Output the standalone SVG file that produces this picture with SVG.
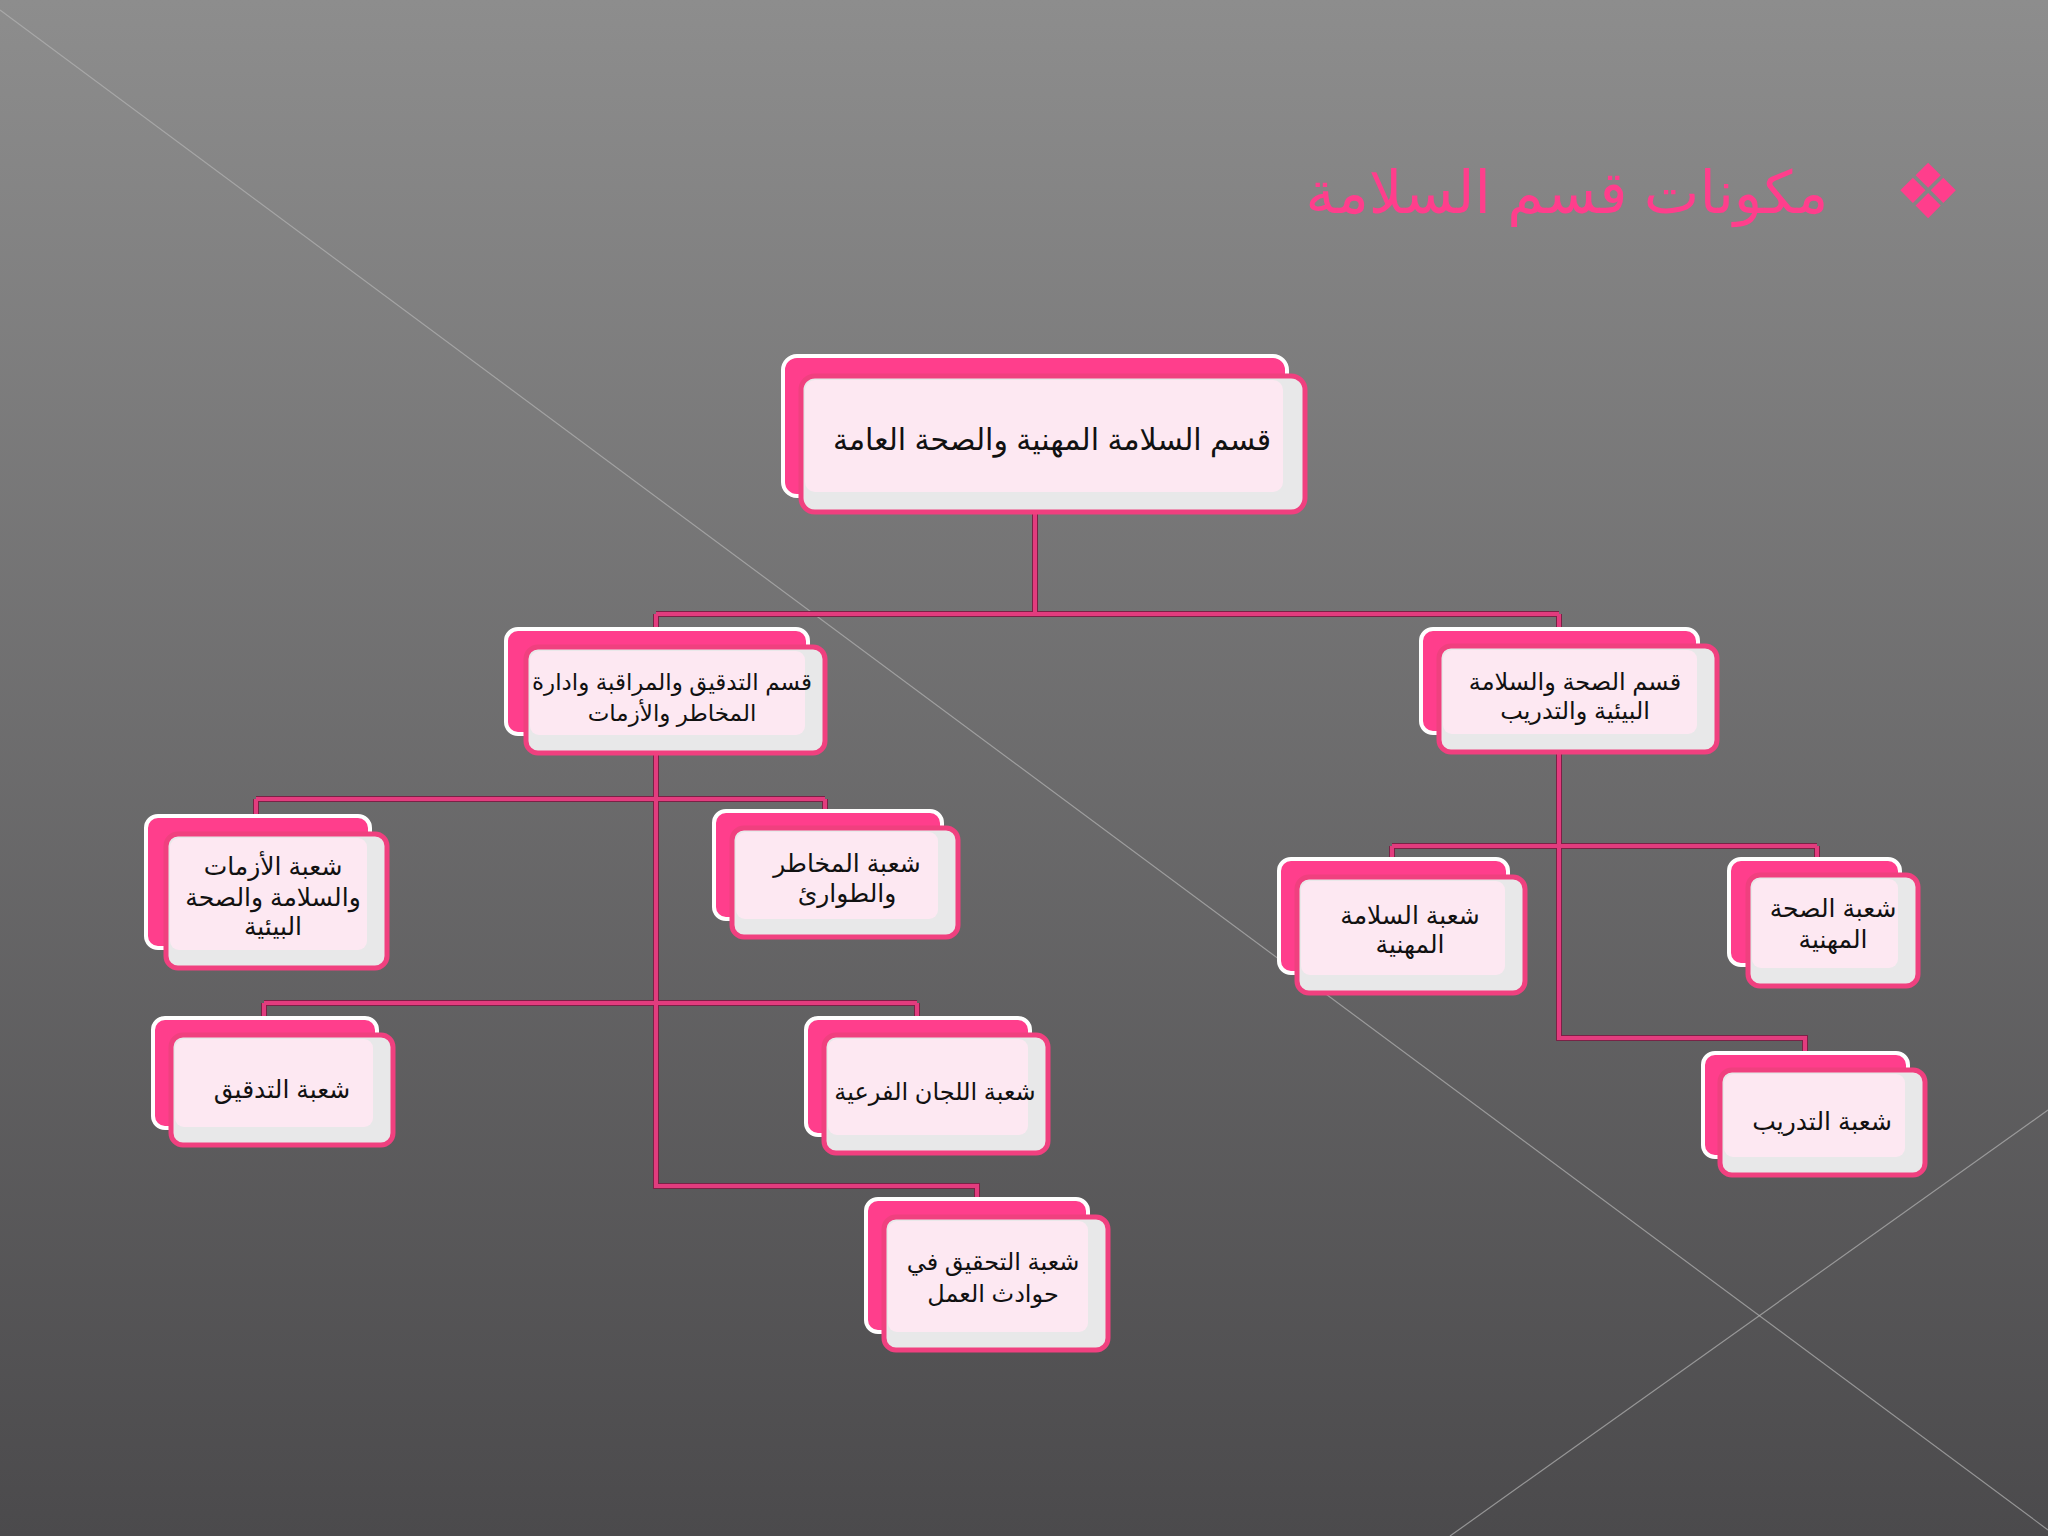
<svg xmlns="http://www.w3.org/2000/svg" width="2048" height="1536" viewBox="0 0 2048 1536">
<defs>
<linearGradient id="bg" x1="0" y1="0" x2="0" y2="1">
<stop offset="0" stop-color="#8d8d8d"/>
<stop offset="1" stop-color="#4b4a4c"/>
</linearGradient>
<style>
.back{fill:#ff3e8c;stroke:#ffffff;stroke-width:4}
.front{fill:#e8e8e9;stroke:#f0407f;stroke-width:5}
.inner{fill:#fde8f2}
.lbl{font-family:"Liberation Sans","DejaVu Sans",sans-serif;font-size:25px;fill:#111;text-anchor:middle}
.s30{font-size:30px}
.s24{font-size:24px}
.s23{font-size:23px}
.conn{fill:none;stroke:#e23c7e;stroke-width:4}
.conn2{fill:none;stroke:#7a2246;stroke-width:6}
</style>
</defs>
<rect width="2048" height="1536" fill="url(#bg)"/>
<line x1="0" y1="10" x2="2048" y2="1530" stroke="#b4b4b4" stroke-width="1.2" opacity="0.7"/>
<line x1="1450" y1="1536" x2="2048" y2="1110" stroke="#b4b4b4" stroke-width="1.2" opacity="0.7"/>

<g id="title">
<text x="1928" y="218" font-family="DejaVu Sans,sans-serif" font-size="76" fill="#ff3e8c" text-anchor="middle">❖</text>
<text x="1567" y="213" font-family="Liberation Sans,DejaVu Sans,sans-serif" font-size="59" fill="#ff3e8c" text-anchor="middle">مكونات قسم السلامة</text>
</g>

<g id="connectors">
<g class="conn2">
<path d="M1035 512V614M656 614H1559M656 614V630M1559 614V630"/>
<path d="M656 753V1186H977V1198M256 799H825M256 799V816M825 799V810M264 1003H917M264 1003V1017M917 1003V1017"/>
<path d="M1559 752V1038H1805V1052M1392 846H1817M1392 846V858M1817 846V858"/>
</g>
<g class="conn">
<path d="M1035 512V614M656 614H1559M656 614V630M1559 614V630"/>
<path d="M656 753V1186H977V1198M256 799H825M256 799V816M825 799V810M264 1003H917M264 1003V1017M917 1003V1017"/>
<path d="M1559 752V1038H1805V1052M1392 846H1817M1392 846V858M1817 846V858"/>
</g>
</g>

<g id="n-top">
<rect class="back" x="783" y="356" width="504" height="140" rx="14"/>
<rect class="front" x="801" y="376" width="504" height="136" rx="14"/>
<rect class="inner" x="805" y="380" width="478" height="112" rx="10"/>
<text class="lbl s30" x="1052" y="450">قسم السلامة المهنية والصحة العامة</text>
</g>

<g id="n-audit-dept">
<rect class="back" x="506" y="629" width="302" height="105" rx="12"/>
<rect class="front" x="526" y="647" width="299" height="106" rx="12"/>
<rect class="inner" x="530" y="651" width="275" height="84" rx="9"/>
<text class="lbl s23" x="672" y="690">قسم التدقيق والمراقبة وادارة</text>
<text class="lbl s23" x="672" y="721">المخاطر والأزمات</text>
</g>

<g id="n-health-dept">
<rect class="back" x="1421" y="629" width="277" height="104" rx="12"/>
<rect class="front" x="1439" y="646" width="278" height="106" rx="12"/>
<rect class="inner" x="1443" y="650" width="254" height="84" rx="9"/>
<text class="lbl s24" x="1575" y="690">قسم الصحة والسلامة</text>
<text class="lbl s24" x="1575" y="719">البيئية والتدريب</text>
</g>

<g id="n-crisis">
<rect class="back" x="146" y="816" width="224" height="132" rx="12"/>
<rect class="front" x="166" y="834" width="221" height="134" rx="12"/>
<rect class="inner" x="170" y="838" width="197" height="112" rx="9"/>
<text class="lbl" x="273" y="875">شعبة الأزمات</text>
<text class="lbl" x="273" y="906">والسلامة  والصحة</text>
<text class="lbl" x="273" y="935">البيئية</text>
</g>

<g id="n-risk">
<rect class="back" x="714" y="811" width="228" height="108" rx="12"/>
<rect class="front" x="732" y="828" width="226" height="109" rx="12"/>
<rect class="inner" x="736" y="832" width="202" height="87" rx="9"/>
<text class="lbl" x="847" y="872">شعبة المخاطر</text>
<text class="lbl" x="847" y="902">والطوارئ</text>
</g>

<g id="n-audit">
<rect class="back" x="153" y="1018" width="224" height="110" rx="12"/>
<rect class="front" x="171" y="1035" width="222" height="110" rx="12"/>
<rect class="inner" x="175" y="1039" width="198" height="88" rx="9"/>
<text class="lbl" x="282" y="1098">شعبة التدقيق</text>
</g>

<g id="n-committees">
<rect class="back" x="806" y="1018" width="224" height="117" rx="12"/>
<rect class="front" x="824" y="1035" width="224" height="118" rx="12"/>
<rect class="inner" x="828" y="1039" width="200" height="96" rx="9"/>
<text class="lbl s24" x="935" y="1100">شعبة اللجان الفرعية</text>
</g>

<g id="n-investigation">
<rect class="back" x="866" y="1199" width="222" height="133" rx="12"/>
<rect class="front" x="884" y="1217" width="224" height="133" rx="12"/>
<rect class="inner" x="888" y="1221" width="200" height="111" rx="9"/>
<text class="lbl s24" x="993" y="1270">شعبة التحقيق في</text>
<text class="lbl s24" x="993" y="1302">حوادث العمل</text>
</g>

<g id="n-occ-safety">
<rect class="back" x="1279" y="859" width="229" height="114" rx="12"/>
<rect class="front" x="1297" y="877" width="228" height="116" rx="12"/>
<rect class="inner" x="1301" y="881" width="204" height="94" rx="9"/>
<text class="lbl" x="1410" y="924">شعبة السلامة</text>
<text class="lbl" x="1410" y="953">المهنية</text>
</g>

<g id="n-occ-health">
<rect class="back" x="1729" y="859" width="171" height="106" rx="12"/>
<rect class="front" x="1748" y="875" width="170" height="111" rx="12"/>
<rect class="inner" x="1752" y="879" width="146" height="89" rx="9"/>
<text class="lbl" x="1833" y="917">شعبة الصحة</text>
<text class="lbl" x="1833" y="948">المهنية</text>
</g>

<g id="n-training">
<rect class="back" x="1703" y="1053" width="205" height="104" rx="12"/>
<rect class="front" x="1720" y="1070" width="205" height="105" rx="12"/>
<rect class="inner" x="1724" y="1074" width="181" height="83" rx="9"/>
<text class="lbl" x="1822" y="1130">شعبة التدريب</text>
</g>
</svg>
